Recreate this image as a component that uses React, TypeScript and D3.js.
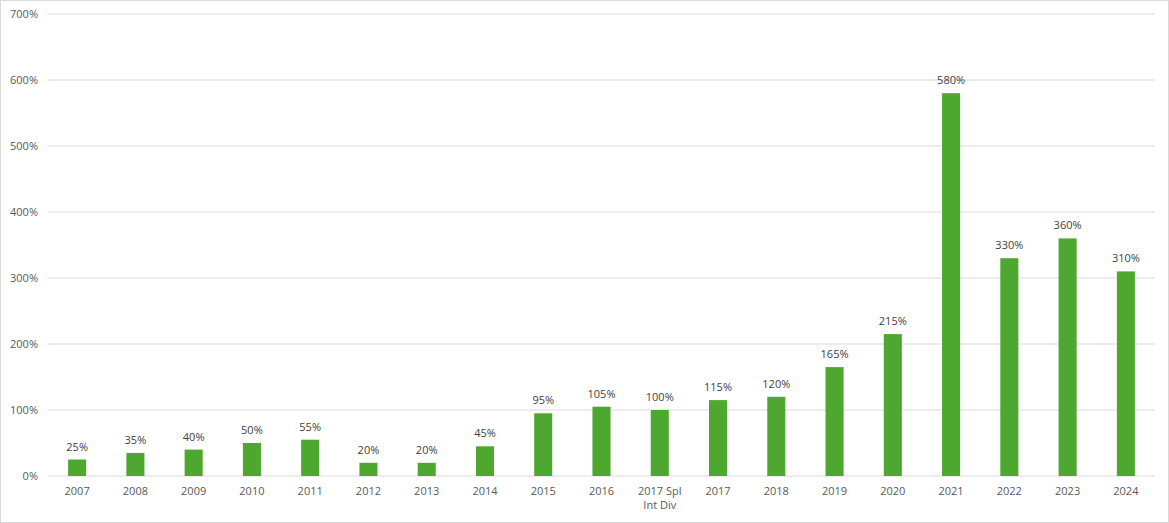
import React from "react";
import * as d3 from "d3";

const categories = ["2007","2008","2009","2010","2011","2012","2013","2014","2015","2016","2017 Spl\nInt Div","2017","2018","2019","2020","2021","2022","2023","2024"];
const values = [25,35,40,50,55,20,20,45,95,105,100,115,120,165,215,580,330,360,310];
const yTicks = [0,100,200,300,400,500,600,700];

const W = 1169, H = 523;
const left = 48, right = 1155, top = 14, bottom = 476;

export default function App() {
  const x = d3.scaleBand<string>().domain(categories).range([left, right]).paddingInner(0.69).paddingOuter(0.345);
  const y = d3.scaleLinear().domain([0, 700]).range([bottom, top]);
  const font = "'Open Sans', 'Liberation Sans', Arial, sans-serif";
  return (
    <svg width={W} height={H} style={{ position: "absolute", left: 0, top: 0 }} fontFamily={font}>
      <rect x={0.5} y={0.5} width={W - 1} height={H - 1} fill="#fff" stroke="#d9d9d9" />
      {yTicks.map((t) => (
        <g key={t}>
          <line x1={left} x2={right} y1={y(t)} y2={y(t)} stroke="#d9d9d9" strokeWidth={1} />
          <text x={38} y={y(t)} dy="0.35em" textAnchor="end" fontSize={11} fill="#595959">{t}%</text>
        </g>
      ))}
      {categories.map((c, i) => {
        const cx = (x(c) as number) + x.bandwidth() / 2;
        return (
          <g key={c}>
            <rect x={x(c)} y={y(values[i])} width={x.bandwidth()} height={y(0) - y(values[i])} fill="#4EA72E" />
            <text x={cx} y={y(values[i]) - 9} textAnchor="middle" fontSize={11} fill="#404040">{values[i]}%</text>
            {c.split("\n").map((ln, j) => (
              <text key={j} x={cx} y={495 + j * 14} textAnchor="middle" fontSize={11} fill="#595959">{ln}</text>
            ))}
          </g>
        );
      })}
    </svg>
  );
}
